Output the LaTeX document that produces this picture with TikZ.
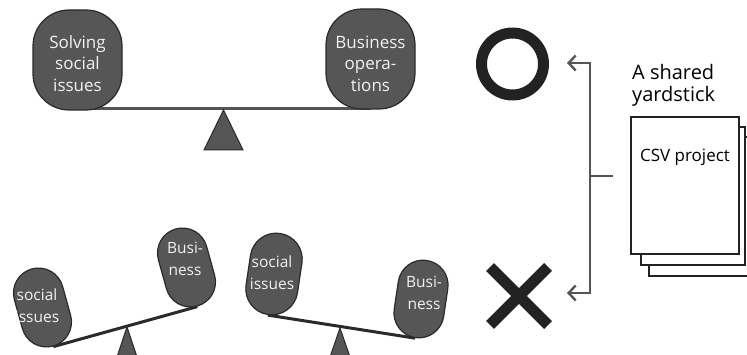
\documentclass[tikz,border=0pt]{standalone}
\usepackage{fontspec}
\setmainfont{Open Sans}
\usetikzlibrary{arrows.meta,backgrounds}
\definecolor{boxfill}{HTML}{565656}
\definecolor{boxline}{HTML}{2A2A2A}
\definecolor{conncol}{HTML}{555555}
\definecolor{markcol}{HTML}{222222}
\definecolor{txtlight}{HTML}{F2F2F2}
\begin{document}
\begin{tikzpicture}[x=1pt,y=-1pt,
  bigbox/.style={draw=boxline, fill=boxfill, line width=1.2pt, rounded corners=36pt,
    minimum width=89pt, minimum height=100pt, inner sep=0pt},
  capsule/.style={draw=boxline, fill=boxfill, line width=1.2pt, rounded corners=25pt,
    minimum width=50pt, minimum height=80pt, inner sep=0pt},
  bigtxt/.style={text=txtlight, font=\fontsize{17}{21.5}\selectfont, align=center, inner sep=0pt},
  captxt/.style={text=txtlight, font=\fontsize{15.5}{22}\selectfont, align=center, inner sep=0pt},
  beamline/.style={draw=boxline, line width=3pt},
  pivot/.style={fill=boxfill, draw=boxline, line width=1pt, line join=miter},
  conn/.style={draw=conncol, line width=2.4pt},
  tip/.style={-{Straight Barb[length=7pt,width=15pt,line width=2.4pt]}},
  page/.style={draw=markcol, fill=white, line width=1.3pt},
]
\useasboundingbox (0,0) rectangle (747,355);

% ---------- top balance ----------
\node[bigbox] (sol) at (77.5,60) {};
\node[bigtxt] (soltxt) at (77.5,63.5) {Solving\\social\\issues};
\node[bigbox] (bus) at (370.5,59) {};
\node[bigtxt] (bustxt) at (370.5,63.5) {Business\\opera-\\tions};
\begin{scope}[on background layer]
  \draw[beamline, draw=conncol, line width=3.2pt] ([yshift=2pt]sol.south) -- ([yshift=1pt]bus.south);
\end{scope}
\draw[pivot] (223.5,110) -- (243,150) -- (204,150) -- cycle;

% ---------- bottom-left balance ----------
\node[capsule, rotate=15.5] (bl1) at (42.5,307.5) {};
\node[captxt] (bl1txt) at (37,306) {social\\issues};
\node[capsule, rotate=15.5] (bl2) at (186.5,267.5) {};
\node[captxt] (bl2txt) at (185,259) {Busi-\\ness};
\begin{scope}[on background layer]
  \draw[beamline] (bl1.south) -- (bl2.south);
\end{scope}
\draw[pivot] (127,327) -- (137,357) -- (117,357) -- cycle;

% ---------- bottom-middle balance ----------
\node[capsule, rotate=-8.5, minimum height=82pt, minimum width=52pt, rounded corners=26pt] (bm1) at (274,274) {};
\node[captxt] (bm1txt) at (272,273) {social\\issues};
\node[capsule, rotate=-8.5, minimum height=78pt] (bm2) at (421,299) {};
\node[captxt] (bm2txt) at (424,293) {Busi-\\ness};
\begin{scope}[on background layer]
  \draw[beamline] (bm1.south) -- (bm2.south);
\end{scope}
\draw[pivot] (340,328) -- (350,357) -- (330,357) -- cycle;

% ---------- circle and cross ----------
\node[circle, draw=markcol, line width=11pt, minimum size=62pt, inner sep=0pt] (ok) at (512.5,64) {};
\coordinate (ng) at (519,296);
\draw[markcol, line width=11pt] ([shift={(-29,-29)}]ng) -- ([shift={(29,29)}]ng)
  ([shift={(29,-29)}]ng) -- ([shift={(-29,29)}]ng);

% ---------- shared yardstick ----------
\node[anchor=north west, align=left, inner sep=0pt,
  font=\fontsize{20}{22}\selectfont] (ys) at (632,64.5) {A shared\\yardstick};
\draw[page] (649,137) rectangle (760,276);
\draw[page] (641,127) rectangle (745,265);
\draw[page] (631,117) rectangle (739,254);
\node[font=\fontsize{17}{20}\selectfont, inner sep=0pt] (doc) at (685,157) {CSV project};

% ---------- connectors ----------
\coordinate (j) at (590,176);
\coordinate (tk) at (613,176);
\coordinate (okin) at (567,63);
\coordinate (ngin) at (567,293);
\draw[conn] (tk) -- (j);
\draw[conn, tip] (j) |- (okin);
\draw[conn, tip] (j) |- (ngin);
\end{tikzpicture}
\end{document}
